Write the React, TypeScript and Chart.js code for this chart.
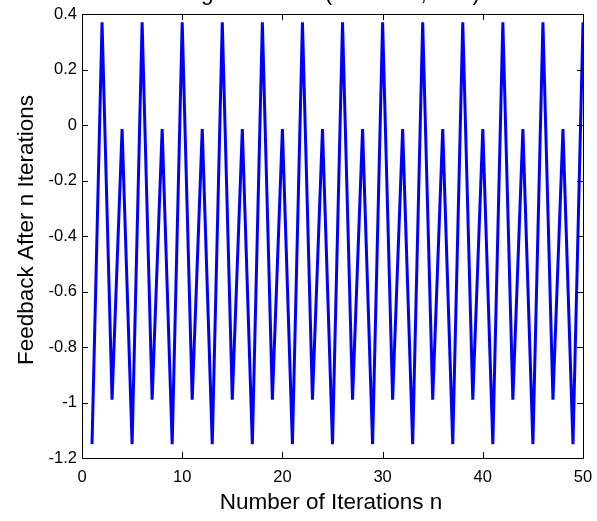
import React, { useEffect, useRef } from "react";
import { Chart, registerables } from "chart.js";

Chart.register(...registerables);

// Iteration index n
const iterationN = [
  1, 2, 3, 4, 5, 6, 7, 8, 9, 10,
  11, 12, 13, 14, 15, 16, 17, 18, 19, 20,
  21, 22, 23, 24, 25, 26, 27, 28, 29, 30,
  31, 32, 33, 34, 35, 36, 37, 38, 39, 40,
  41, 42, 43, 44, 45, 46, 47, 48, 49, 50,
];

// Feedback value after n iterations (settles into a 4-cycle)
const feedback = [
  -1.15, 0.37, -0.99, -0.015, -1.15, 0.37, -0.99, -0.015, -1.15, 0.37,
  -0.99, -0.015, -1.15, 0.37, -0.99, -0.015, -1.15, 0.37, -0.99, -0.015,
  -1.15, 0.37, -0.99, -0.015, -1.15, 0.37, -0.99, -0.015, -1.15, 0.37,
  -0.99, -0.015, -1.15, 0.37, -0.99, -0.015, -1.15, 0.37, -0.99, -0.015,
  -1.15, 0.37, -0.99, -0.015, -1.15, 0.37, -0.99, -0.015, -1.15, 0.37,
];

const xTicks = [0, 10, 20, 30, 40, 50];
const yTicks = [-1.2, -1, -0.8, -0.6, -0.4, -0.2, 0, 0.2, 0.4];

const titleText = "Logistic Orbits (x0=-1.15, T=4)";
const xTitle = "Number of Iterations n";
const yTitle = "Feedback After n Iterations";

const FONT = "'Liberation Sans', Arial, Helvetica, sans-serif";
const W = 597;
const H = 521;

// Boxed axes with inward tick marks on all four sides, plus titles
const framePlugin = {
  id: "frame",
  afterDraw(chart: any) {
    const { ctx, chartArea } = chart;
    const { left, right, top, bottom } = chartArea;
    const xs = chart.scales.x;
    const ys = chart.scales.y;
    const tick = 6;
    ctx.save();
    ctx.strokeStyle = "#000";
    ctx.lineWidth = 1;
    ctx.beginPath();
    ctx.rect(Math.round(left) + 0.5, Math.round(top) + 0.5, Math.round(right - left), Math.round(bottom - top));
    for (const v of xTicks) {
      const px = Math.round(xs.getPixelForValue(v)) + 0.5;
      ctx.moveTo(px, bottom);
      ctx.lineTo(px, bottom - tick);
      ctx.moveTo(px, top);
      ctx.lineTo(px, top + tick);
    }
    for (const v of yTicks) {
      const py = Math.round(ys.getPixelForValue(v)) + 0.5;
      ctx.moveTo(left, py);
      ctx.lineTo(left + tick, py);
      ctx.moveTo(right, py);
      ctx.lineTo(right - tick, py);
    }
    ctx.stroke();

    ctx.fillStyle = "#000";
    ctx.font = `22.5px ${FONT}`;
    ctx.textAlign = "center";
    ctx.textBaseline = "alphabetic";
    ctx.fillText(xTitle, (left + right) / 2 - 1.5, 509);

    ctx.save();
    ctx.translate(33, 230);
    ctx.rotate(-Math.PI / 2);
    ctx.fillText(yTitle, 0, 0);
    ctx.restore();

    // Title sits above the top edge of the canvas
    ctx.textAlign = "left";
    ctx.fillText(titleText, 176, 0);
    ctx.restore();
  },
};

export default function App() {
  const canvasRef = useRef<HTMLCanvasElement | null>(null);

  useEffect(() => {
    const canvas = canvasRef.current;
    if (!canvas) return;
    const chart = new Chart(canvas, {
      type: "line",
      data: {
        datasets: [
          {
            data: iterationN.map((n, i) => ({ x: n, y: feedback[i] })),
            borderColor: "#0000ff",
            borderWidth: 3,
            pointRadius: 0,
            tension: 0,
            fill: false,
          },
        ],
      },
      options: {
        responsive: false,
        animation: false,
        devicePixelRatio: 1,
        layout: { padding: { left: 0, top: 14, right: 14, bottom: 0 } },
        plugins: {
          legend: { display: false },
          tooltip: { enabled: false },
          title: { display: false },
        },
        scales: {
          x: {
            type: "linear",
            min: 0,
            max: 50,
            afterFit: (s: any) => {
              s.height = 63;
              s.paddingLeft = 0;
              s.paddingRight = 0;
            },
            afterBuildTicks: (s: any) => {
              s.ticks = xTicks.map((v) => ({ value: v }));
            },
            grid: { display: false, drawTicks: false },
            border: { display: false },
            ticks: {
              color: "#000",
              font: { size: 16.5, family: FONT },
              padding: 10,
              maxRotation: 0,
              callback: (v: any) => String(v),
            },
          },
          y: {
            type: "linear",
            min: -1.2,
            max: 0.4,
            afterFit: (s: any) => {
              s.width = 82;
              s.paddingTop = 0;
              s.paddingBottom = 0;
            },
            afterBuildTicks: (s: any) => {
              s.ticks = yTicks.map((v) => ({ value: v }));
            },
            grid: { display: false, drawTicks: false },
            border: { display: false },
            ticks: {
              color: "#000",
              font: { size: 16.5, family: FONT },
              padding: 5,
              callback: (v: any) => String(Number(Number(v).toFixed(1))),
            },
          },
        },
      },
      plugins: [framePlugin],
    });
    return () => chart.destroy();
  }, []);

  return (
    <div style={{ position: "absolute", left: 0, top: 0, width: W, height: H, background: "#fff" }}>
      <canvas ref={canvasRef} width={W} height={H} style={{ display: "block", width: W, height: H }} />
    </div>
  );
}
